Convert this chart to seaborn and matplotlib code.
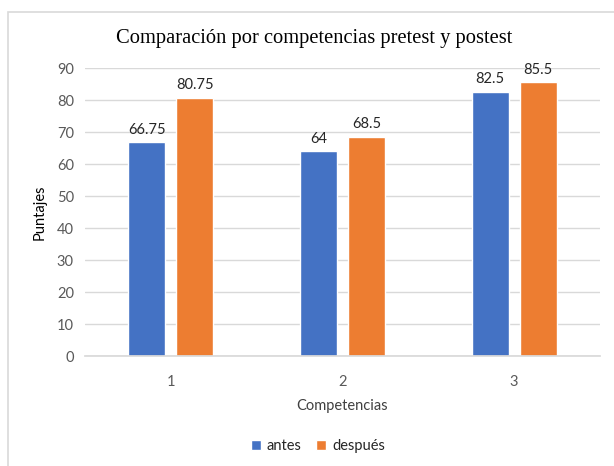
import matplotlib
matplotlib.use("Agg")
import matplotlib.pyplot as plt
import seaborn as sns
import pandas as pd
from matplotlib.patches import Rectangle

categories = ["1", "2", "3"]
antes = [66.75, 64, 82.5]
despues = [80.75, 68.5, 85.5]
series_names = ["antes", "después"]
labels_antes = ["66.75", "64", "82.5"]
labels_despues = ["80.75", "68.5", "85.5"]

df = pd.DataFrame({
    "Competencias": categories * 2,
    "Puntajes": antes + despues,
    "serie": [series_names[0]] * 3 + [series_names[1]] * 3,
})

sns.set_theme(style="white")
plt.rcParams["font.family"] = ["Lato", "DejaVu Sans"]

fig = plt.figure(figsize=(6.14, 4.66), dpi=100)
fig.patches.append(Rectangle((8 / 614, -0.1), 1.2, (466 - 12) / 466 + 0.1,
                             transform=fig.transFigure, fill=False,
                             edgecolor="#D9D9D9", linewidth=1.2))
ax = fig.add_axes([85 / 614, 1 - 356 / 466, 515 / 614, 288 / 466])

sns.barplot(data=df, x="Competencias", y="Puntajes", hue="serie",
            palette=["#4472C4", "#ED7D31"], width=0.56, gap=0.23,
            ax=ax, legend=True, saturation=1)

ax.set_ylim(0, 90)
ax.set_yticks(range(0, 91, 10))
ax.yaxis.grid(True, color="#D9D9D9", linewidth=1)
ax.set_axisbelow(True)
for s in ["top", "right", "left"]:
    ax.spines[s].set_visible(False)
ax.spines["bottom"].set_color("#D9D9D9")
ax.tick_params(axis="both", length=0, labelsize=10.5, colors="#595959")
ax.tick_params(axis="y", pad=8)
ax.tick_params(axis="x", pad=14)
ax.set_xlim(-0.5, 2.5)

for cont, labs in zip(ax.containers, [labels_antes, labels_despues]):
    ax.bar_label(cont, labels=labs, padding=4, fontsize=10.5, color="#262626")

ax.set_xlabel("Competencias", fontsize=10.5, color="#404040", labelpad=7)
ax.set_ylabel("Puntajes", fontsize=10.5, color="#000000", labelpad=7)

fig.text(314 / 614, 1 - 38 / 466, "Comparación por competencias pretest y postest",
         family="Liberation Serif", fontsize=14.8, color="#000000",
         ha="center", va="center")

leg = ax.get_legend()
leg.remove()
handles, labels = ax.get_legend_handles_labels()
fig.legend(handles, labels, loc="center", bbox_to_anchor=(318 / 614, 1 - 446 / 466),
           ncol=2, frameon=False, fontsize=10.5, handlelength=0.7, handleheight=0.7,
           handletextpad=0.4, columnspacing=1.0, labelcolor="#262626")

fig.savefig("out.png", dpi=100)
